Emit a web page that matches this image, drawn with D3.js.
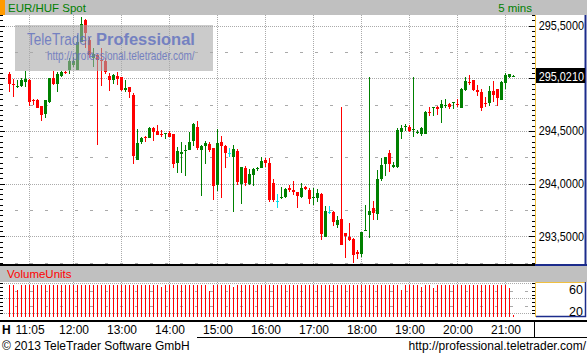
<!DOCTYPE html>
<html>
<head>
<meta charset="utf-8">
<script src="https://cdn.jsdelivr.net/npm/d3@7"></script>
<style>
body { margin: 0; background: #fff; }
svg { display: block; font-family: "Liberation Sans", Arial, sans-serif; }
</style>
</head>
<body>
<div id="chart"></div>
<script>
var width = 587, height = 355;
var plotRight = 535;

var day = '2013-06-14';
var firstBar = '10:40';
var barMinutes = 5;
var tickLabels = ['11:05', '12:00', '13:00', '14:00', '15:00', '16:00', '17:00', '18:00', '19:00', '20:00', '21:00'];
var priceTicks = [293.5, 294.0, 294.5, 295.5];
var volumeTicks = [20, 60];
var lastPrice = 295.021;

var open = [295.038, 294.950, 294.922, 294.927, 294.968, 294.984, 294.796, 294.794, 294.737, 294.658,
  294.772, 295.006, 294.946, 295.022, 295.059, 295.079, 295.127, 295.079, 295.342, 295.554,
  295.364, 295.190, 295.222, 295.178, 295.165, 295.022, 294.984, 295.022, 295.013, 294.892,
  294.921, 294.842, 294.228, 294.392, 294.445, 294.437, 294.525, 294.500, 294.470, 294.468,
  294.478, 294.472, 294.199, 294.278, 294.314, 294.323, 294.405, 294.538, 294.323, 294.354,
  294.377, 294.335, 293.987, 294.396, 294.358, 294.294, 294.256, 294.310, 294.000, 294.146,
  294.000, 294.082, 294.144, 294.152, 294.222, 294.199, 294.010, 293.839, 293.871, 293.870,
  293.956, 293.943, 293.921, 293.870, 293.972, 293.940, 293.871, 293.867, 293.902, 293.497,
  293.734, 293.731, 293.608, 293.665, 293.532, 293.497, 293.478, 293.354, 293.335, 293.555,
  293.703, 293.769, 293.712, 294.044, 294.187, 294.291, 294.158, 294.158, 294.487, 294.545,
  294.538, 294.511, 294.489, 294.472, 294.472, 294.682, 294.720, 294.725, 294.722, 294.742,
  294.753, 294.770, 294.761, 294.722, 294.889, 294.964, 294.984, 294.889, 294.870, 294.765,
  294.766, 294.880, 294.899, 294.797, 294.956, 295.013, 295.019];

var high = [295.057, 294.991, 294.981, 295.000, 295.070, 294.991, 294.804, 294.801, 294.737, 294.794,
  295.006, 295.070, 295.063, 295.070, 295.070, 295.190, 295.206, 295.411, 295.585, 295.563,
  295.396, 295.285, 295.228, 295.285, 295.190, 295.047, 295.038, 295.057, 295.016, 294.984,
  294.921, 294.858, 294.516, 294.446, 294.456, 294.538, 294.538, 294.557, 294.506, 294.481,
  294.503, 294.472, 294.348, 294.399, 294.367, 294.494, 294.573, 294.595, 294.367, 294.405,
  294.399, 294.335, 294.516, 294.456, 294.367, 294.335, 294.367, 294.329, 294.158, 294.168,
  294.139, 294.152, 294.161, 294.253, 294.241, 294.247, 294.044, 293.902, 293.968, 293.962,
  293.987, 294.025, 293.921, 294.006, 293.978, 293.956, 293.959, 293.949, 293.908, 293.788,
  293.788, 293.741, 293.696, 294.731, 293.532, 293.627, 293.481, 293.367, 293.541, 293.797,
  295.013, 293.835, 294.130, 294.247, 294.253, 294.320, 294.209, 294.525, 294.557, 294.570,
  294.557, 295.013, 294.510, 294.538, 294.690, 294.725, 294.728, 294.741, 294.791, 294.804,
  294.763, 294.774, 294.804, 294.905, 295.016, 295.032, 294.984, 294.937, 294.899, 294.823,
  294.930, 294.975, 294.899, 294.975, 295.047, 295.038, 295.029];

var low = [294.873, 294.826, 294.911, 294.921, 294.921, 294.741, 294.747, 294.715, 294.595, 294.627,
  294.769, 294.937, 294.873, 295.013, 295.038, 295.038, 295.111, 295.079, 295.342, 295.285,
  295.190, 295.111, 294.367, 294.930, 295.038, 294.883, 294.946, 294.937, 294.880, 294.873,
  294.810, 294.187, 294.228, 294.373, 294.399, 294.430, 294.405, 294.462, 294.446, 294.424,
  294.443, 294.152, 294.105, 294.105, 294.073, 294.323, 294.361, 294.323, 293.883, 294.184,
  294.301, 293.845, 293.930, 293.861, 294.152, 294.256, 293.734, 293.987, 293.810, 293.981,
  293.987, 293.981, 294.120, 294.146, 294.161, 293.823, 293.823, 293.766, 293.854, 293.861,
  293.918, 293.892, 293.772, 293.864, 293.943, 293.810, 293.797, 293.829, 293.468, 293.497,
  293.709, 293.601, 293.582, 293.418, 293.297, 293.456, 293.250, 293.285, 293.307, 293.555,
  293.481, 293.658, 293.658, 294.025, 294.076, 294.114, 294.152, 294.152, 294.424, 294.500,
  294.494, 294.446, 294.475, 294.456, 294.472, 294.642, 294.646, 294.652, 294.579, 294.715,
  294.709, 294.712, 294.731, 294.722, 294.880, 294.937, 294.880, 294.835, 294.690, 294.731,
  294.741, 294.778, 294.741, 294.797, 294.899, 295.006, 295.013];

var close = [294.946, 294.942, 294.926, 294.984, 294.994, 294.778, 294.792, 294.722, 294.652, 294.794,
  295.000, 294.946, 295.038, 295.063, 295.055, 295.165, 295.165, 295.348, 295.513, 295.427,
  295.222, 295.228, 295.174, 295.172, 295.057, 294.984, 295.032, 294.994, 294.889, 294.911,
  294.873, 294.266, 294.386, 294.437, 294.441, 294.532, 294.494, 294.462, 294.466, 294.481,
  294.446, 294.190, 294.310, 294.304, 294.318, 294.396, 294.566, 294.342, 294.358, 294.389,
  294.320, 293.981, 294.389, 294.361, 294.291, 294.294, 294.329, 294.019, 294.158, 294.003,
  294.089, 294.139, 294.148, 294.215, 294.199, 293.845, 293.845, 293.839, 293.875, 293.949,
  293.943, 293.924, 293.883, 293.962, 293.949, 293.854, 293.875, 293.911, 293.522, 293.741,
  293.734, 293.639, 293.658, 293.418, 293.506, 293.465, 293.323, 293.335, 293.541, 293.559,
  293.741, 293.722, 294.044, 294.177, 294.253, 294.184, 294.177, 294.506, 294.525, 294.549,
  294.500, 294.515, 294.493, 294.525, 294.680, 294.678, 294.724, 294.709, 294.759, 294.746,
  294.728, 294.774, 294.757, 294.899, 294.975, 294.960, 294.889, 294.867, 294.722, 294.761,
  294.880, 294.842, 294.816, 294.968, 295.032, 295.038, 295.021];

var volume = [57.7, 57.7, 51.1, 57.7, 57.7, 57.7, 57.7, 57.7, 57.7, 57.7,
  57.7, 57.7, 57.7, 57.7, 57.7, 57.7, 57.7, 57.7, 57.7, 57.7,
  57.7, 57.7, 57.7, 57.7, 57.7, 57.7, 57.7, 57.7, 57.7, 57.7,
  57.7, 57.7, 57.7, 57.7, 57.7, 57.7, 57.7, 57.7, 55.1, 57.7,
  57.7, 57.7, 57.7, 57.7, 57.7, 57.7, 57.7, 57.7, 57.7, 57.7,
  49.7, 57.7, 57.7, 57.7, 57.7, 57.7, 55.1, 57.7, 57.7, 57.7,
  57.7, 57.7, 57.7, 57.7, 57.7, 57.7, 57.7, 57.7, 57.7, 57.7,
  57.7, 57.7, 57.7, 57.7, 57.7, 57.7, 57.7, 57.7, 57.7, 57.7,
  57.7, 57.7, 57.7, 57.7, 57.7, 57.7, 57.7, 57.7, 57.7, 57.7,
  57.7, 57.7, 57.7, 57.7, 57.7, 57.7, 57.7, 57.7, 51.1, 57.7,
  57.7, 57.7, 57.7, 55.1, 57.7, 57.7, 53.7, 57.7, 57.7, 57.7,
  57.7, 57.7, 57.7, 57.7, 57.7, 57.7, 57.7, 57.7, 57.7, 57.7,
  57.7, 57.7, 57.7, 57.7, 57.7, 53.7, 17.7];

var green = '#008000', red = '#ff0000', cyan = '#00e0f0';
var gridColor = '#aaaaaa';

var parseTime = d3.timeParse('%Y-%m-%d %H:%M');
var t0 = parseTime(day + ' ' + firstBar);

var bars = open.map(function(o, i) {
  return { t: d3.timeMinute.offset(t0, barMinutes * i), o: o, h: high[i], l: low[i], c: close[i], v: volume[i] };
});
var tickTimes = tickLabels.map(d => parseTime(day + ' ' + d));

var svg = d3.select('#chart').append('svg')
  .attr('width', width)
  .attr('height', height);

// 4px per 5 minute bar, first bar centred on pixel column 9
var x = d3.scaleTime()
  .domain([new Date(t0.getTime() - 9.5 / 0.8 * 60000), new Date(t0.getTime() + (plotRight - 9.5) / 0.8 * 60000)])
  .range([0, plotRight]);

var y = d3.scaleLinear()
  .domain([293.2274, 295.6016])
  .range([265, 15]);

var yVol = d3.scaleLinear()
  .domain([15.07, 61.7])
  .range([317, 282]);

var snap = v => Math.round(v) + 0.5;
var comma = d3.formatLocale({ decimal: ',', thousands: '.', grouping: [3], currency: ['', ''] }).format('.4f');

// header
svg.append('rect').attr('x', 0).attr('y', 0).attr('width', width).attr('height', 15).attr('fill', '#c0c0c0');
svg.append('rect').attr('x', 0).attr('y', 0).attr('width', 5).attr('height', 15).attr('fill', '#ff9a00');
svg.append('text').attr('x', 8).attr('y', 12).attr('font-size', 11.5).attr('fill', green).text('EUR/HUF Spot');
svg.append('text').attr('x', 532).attr('y', 12).attr('font-size', 11.5).attr('fill', green)
  .style('text-anchor', 'end').text('5 mins');

// price grid
var gridMajor = d3.range(Math.ceil(y.domain()[0] * 2) / 2, y.domain()[1], 0.5);
var gridMinor = gridMajor.map(d => d + 0.25).concat([gridMajor[0] - 0.25]).filter(d => d > y.domain()[0] && d < y.domain()[1]);

svg.append('g').selectAll('line').data(gridMajor).enter().append('line')
  .attr('x1', 0).attr('x2', plotRight)
  .attr('y1', d => snap(y(d))).attr('y2', d => snap(y(d)))
  .attr('stroke', gridColor).attr('stroke-dasharray', '1,1');

svg.append('g').selectAll('line').data(gridMinor).enter().append('line')
  .attr('x1', 0).attr('x2', plotRight)
  .attr('y1', d => snap(y(d))).attr('y2', d => snap(y(d)))
  .attr('stroke', gridColor).attr('stroke-dasharray', '3,12');

svg.append('g').selectAll('line').data(tickTimes).enter().append('line')
  .attr('x1', d => Math.floor(x(d)) + 0.5).attr('x2', d => Math.floor(x(d)) + 0.5)
  .attr('y1', 15).attr('y2', 264)
  .attr('stroke', gridColor).attr('stroke-dasharray', '1,1');

// candles
var colorOf = d => d.c > d.o ? green : (d.c < d.o ? red : cyan);
var candles = svg.append('g').attr('shape-rendering', 'crispEdges')
  .selectAll('g').data(bars).enter().append('g');

candles.append('rect')
  .attr('x', d => Math.floor(x(d.t)))
  .attr('width', 1)
  .attr('y', d => Math.round(y(d.h)))
  .attr('height', d => Math.max(1, Math.round(y(d.l)) - Math.round(y(d.h))))
  .attr('fill', colorOf);

candles.append('rect')
  .attr('x', d => Math.floor(x(d.t)) - 1)
  .attr('width', 3)
  .attr('y', d => Math.round(y(Math.max(d.o, d.c))))
  .attr('height', d => Math.max(1, Math.round(y(Math.min(d.o, d.c))) - Math.round(y(Math.max(d.o, d.c)))))
  .attr('fill', colorOf);

// watermark
svg.append('rect').attr('x', 15).attr('y', 25).attr('width', 198).attr('height', 46)
  .attr('fill', '#a8a8a8').attr('opacity', 0.6);
svg.append('g').attr('transform', 'translate(27,45) scale(0.8,1)')
  .append('text').attr('font-size', 17).attr('fill', '#5f6fbf').attr('opacity', 0.8)
  .text('TeleTrader');
svg.append('g').attr('transform', 'translate(96,45) scale(0.97,1)')
  .append('text').attr('font-size', 17).attr('font-weight', 'bold').attr('fill', '#5f6fbf').attr('opacity', 0.8)
  .text('Professional');
svg.append('g').attr('transform', 'translate(47,60) scale(0.8,1)')
  .append('text').attr('font-size', 12.5).attr('fill', '#5f6fbf').attr('opacity', 0.8)
  .text('http://professional.teletrader.com/');

// price axis box
var minorTicks = d3.ticks(y.domain()[0], y.domain()[1], 48);
var isMajor = d => Math.abs(d * 2 - Math.round(d * 2)) < 1e-6;
svg.append('g').selectAll('line').data(minorTicks).enter().append('line')
  .attr('x1', 0).attr('x2', d => isMajor(d) ? 5 : 3)
  .attr('y1', d => snap(y(d))).attr('y2', d => snap(y(d)))
  .attr('stroke', '#000');
svg.append('g').selectAll('line').data(minorTicks).enter().append('line')
  .attr('x1', d => isMajor(d) ? plotRight - 6 : plotRight - 3).attr('x2', plotRight)
  .attr('y1', d => snap(y(d))).attr('y2', d => snap(y(d)))
  .attr('stroke', '#000');

svg.append('rect').attr('x', plotRight).attr('y', 15).attr('width', width - plotRight).attr('height', 250).attr('fill', '#fff');
svg.append('line').attr('x1', plotRight + 0.5).attr('x2', plotRight + 0.5).attr('y1', 15).attr('y2', 264)
  .attr('stroke', '#f0c040');
svg.append('line').attr('x1', 585.5).attr('x2', 585.5).attr('y1', 15).attr('y2', 266)
  .attr('stroke', '#1c2c8c').attr('stroke-width', 2);

svg.append('g').selectAll('g').data(priceTicks).enter().append('g')
  .attr('transform', d => 'translate(584,' + (y(d) + 4.5) + ') scale(0.87,1)')
  .append('text')
  .attr('font-size', 12.5).style('text-anchor', 'end')
  .text(d => comma(d));

svg.append('rect').attr('x', 536).attr('y', Math.round(y(lastPrice)) - 8).attr('width', 49).attr('height', 15).attr('fill', '#000');
svg.append('g').attr('transform', 'translate(584,' + (y(lastPrice) + 4.5) + ') scale(0.87,1)')
  .append('text')
  .attr('font-size', 12.5).attr('fill', '#fff').style('text-anchor', 'end')
  .text(comma(lastPrice));

// separator + volume header
svg.append('rect').attr('x', 0).attr('y', 264).attr('width', plotRight).attr('height', 2).attr('fill', '#000');
svg.append('rect').attr('x', plotRight).attr('y', 264).attr('width', width - plotRight).attr('height', 2).attr('fill', '#1c2c8c');
svg.append('rect').attr('x', 0).attr('y', 266).attr('width', width).attr('height', 16).attr('fill', '#c0c0c0');
svg.append('text').attr('x', 7).attr('y', 278).attr('font-size', 11.5).attr('fill', red).text('VolumeUnits');

// volume panel
svg.append('g').selectAll('line').data(tickTimes).enter().append('line')
  .attr('x1', d => Math.floor(x(d)) + 0.5).attr('x2', d => Math.floor(x(d)) + 0.5)
  .attr('y1', 282).attr('y2', 317)
  .attr('stroke', gridColor).attr('stroke-dasharray', '1,1');

svg.append('g').selectAll('line').data([20, 30, 40, 50, 60]).enter().append('line')
  .attr('x1', 0).attr('x2', plotRight)
  .attr('y1', d => snap(yVol(d))).attr('y2', d => snap(yVol(d)))
  .attr('stroke', gridColor).attr('stroke-dasharray', d => d % 20 ? '3,12' : '1,1');

svg.append('g').attr('shape-rendering', 'crispEdges')
  .selectAll('rect').data(bars).enter().append('rect')
  .attr('x', d => Math.floor(x(d.t)))
  .attr('width', 1)
  .attr('y', d => Math.round(yVol(d.v)))
  .attr('height', d => 317 - Math.round(yVol(d.v)))
  .attr('fill', red);

var volMinor = d3.range(20, 61, 5);
svg.append('g').selectAll('line').data(volMinor).enter().append('line')
  .attr('x1', 0).attr('x2', 3)
  .attr('y1', d => snap(yVol(d))).attr('y2', d => snap(yVol(d)))
  .attr('stroke', '#000');
svg.append('g').selectAll('line').data(volMinor).enter().append('line')
  .attr('x1', plotRight - 3).attr('x2', plotRight)
  .attr('y1', d => snap(yVol(d))).attr('y2', d => snap(yVol(d)))
  .attr('stroke', '#000');

svg.append('rect').attr('x', plotRight).attr('y', 282).attr('width', width - plotRight).attr('height', 35).attr('fill', '#fff');
svg.append('path').attr('d', 'M' + (plotRight + 0.5) + ',317V282.5H586').attr('fill', 'none').attr('stroke', '#f0c040');
svg.append('path').attr('d', 'M' + (plotRight + 1) + ',316.5H585.5V282').attr('fill', 'none').attr('stroke', '#1c2c8c').attr('stroke-width', 1.5);

// labels kept inside the small volume box
svg.append('g').selectAll('text').data(volumeTicks).enter().append('text')
  .attr('x', 583).attr('y', d => Math.min(311.5, Math.max(289, yVol(d))) + 4.5)
  .attr('font-size', 12.5).style('text-anchor', 'end')
  .text(d => d);

// time axis
svg.append('rect').attr('x', 0).attr('y', 320).attr('width', width).attr('height', 2).attr('fill', '#000');
svg.append('line').attr('x1', 534.5).attr('x2', 534.5).attr('y1', 322).attr('y2', 338).attr('stroke', '#000');
svg.append('line').attr('x1', 197).attr('x2', width).attr('y1', 337.5).attr('y2', 337.5).attr('stroke', '#000');

var xAxis = d3.axisBottom(x)
  .tickValues(tickTimes)
  .tickFormat(d3.timeFormat('%H:%M'))
  .tickSize(0)
  .tickPadding(3);

var axisG = svg.append('g')
  .attr('transform', 'translate(0,322)')
  .call(xAxis);
axisG.select('.domain').remove();
axisG.selectAll('text').attr('font-size', 12).attr('font-family', '"Liberation Sans", Arial, sans-serif').attr('fill', '#000');

svg.append('text').attr('x', 2).attr('y', 334).attr('font-size', 12).attr('font-weight', 'bold').text('H');

// footer
svg.append('text').attr('x', 2).attr('y', 350).attr('font-size', 12).text('\u00a9 2013 TeleTrader Software GmbH');
svg.append('text').attr('x', 586).attr('y', 350).attr('font-size', 12).style('text-anchor', 'end')
  .text('http://professional.teletrader.com/');
</script>
</body>
</html>
